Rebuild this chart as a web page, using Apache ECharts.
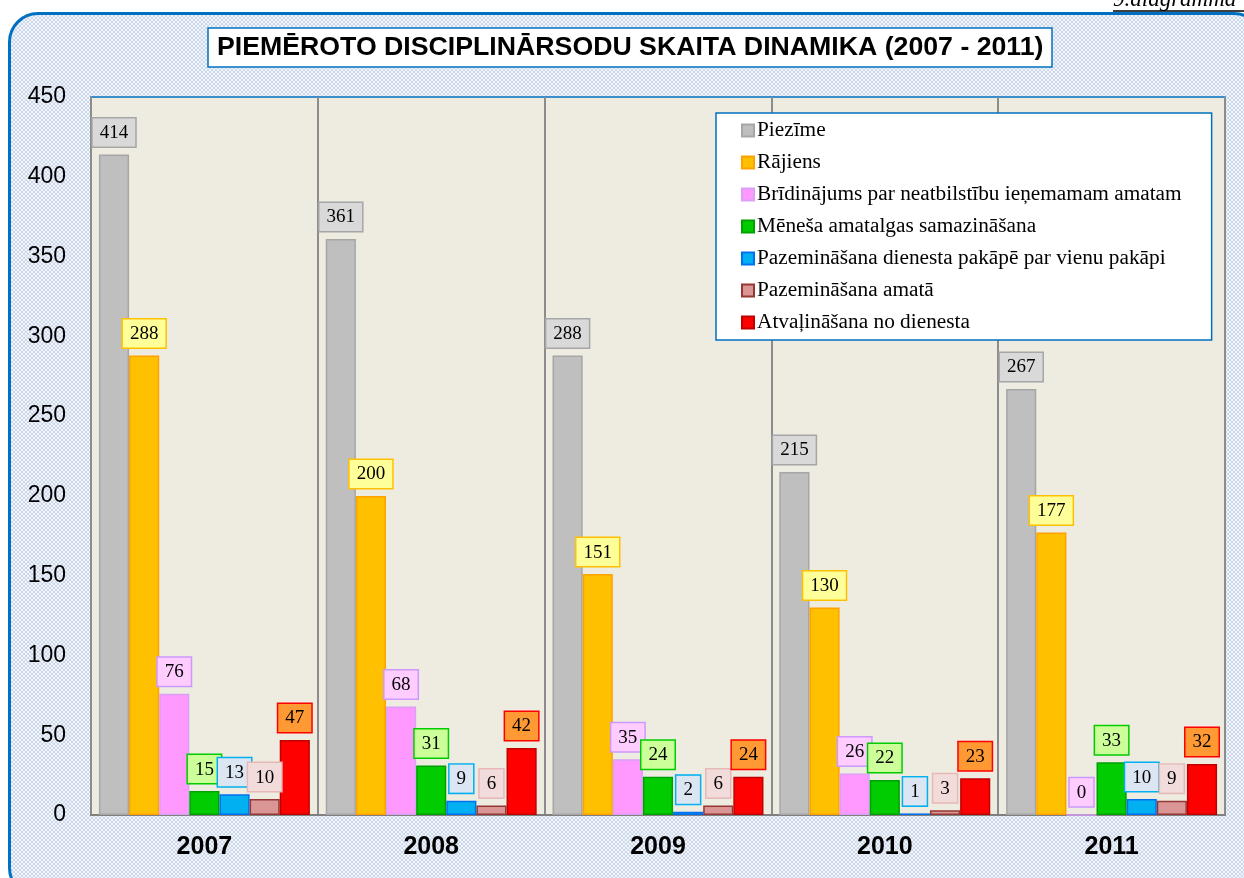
<!DOCTYPE html>
<html>
<head>
    <meta charset="utf-8">
    <title>Disciplinārsodu dinamika</title>
    <script src="https://cdn.jsdelivr.net/npm/echarts@6/dist/echarts.min.js"></script>
</head>
<style>
    html, body
    {
        margin: 0;
        padding: 0;
        background: #ffffff;
        overflow: hidden;
    }

    #frame
    {
        position: absolute;
        left: 8px;
        top: 12px;
        width: 1250px;
        height: 880px;
        border: 3px solid #0070C0;
        border-radius: 30px;
        background-color: #dfe7f2;
        background-image: conic-gradient(#cbd8ec 25%, #f2f5fa 0 50%, #cbd8ec 0 75%, #f2f5fa 0);
        background-size: 4px 4px;
    }

    #main
    {
        position: absolute;
        left: 0;
        top: 0;
        width: 1244px;
        height: 878px;
    }
</style>
<body>

    <div id="frame"></div>
    <div id="main"></div>

    <script type="text/javascript">
        // dati
        var years = ['2007', '2008', '2009', '2010', '2011'];
        var names = [
            'Piezīme',
            'Rājiens',
            'Brīdinājums par neatbilstību ieņemamam amatam',
            'Mēneša amatalgas samazināšana',
            'Pazemināšana dienesta pakāpē par vienu pakāpi',
            'Pazemināšana amatā',
            'Atvaļināšana no dienesta'
        ];
        var piezime    = [414, 361, 288, 215, 267];
        var rajiens    = [288, 200, 151, 130, 177];
        var bridinajums = [76, 68, 35, 26, 0];
        var menesa     = [15, 31, 24, 22, 33];
        var pakape     = [13, 9, 2, 1, 10];
        var amata      = [10, 6, 6, 3, 9];
        var atvalinasana = [47, 42, 24, 23, 32];
        var values = [piezime, rajiens, bridinajums, menesa, pakape, amata, atvalinasana];
        var yTicks = [0, 50, 100, 150, 200, 250, 300, 350, 400, 450];

        // krāsas
        var barColor    = ['#BFBFBF', '#FFC000', '#FF99FF', '#00CC00', '#00B0F0', '#D99694', '#FF0000'];
        var barBorder   = ['#A6A6A6', '#FFA200', '#D9A0F5', '#00A000', '#0070F0', '#953735', '#C00000'];
        var labelFill   = ['#D9D9D9', '#FFFF99', '#FFCCFF', '#CCFF99', '#DCE6F2', '#F2DCDB', '#FF9933'];
        var labelBorder = ['#A6A6A6', '#FFC000', '#CC99FF', '#00CC00', '#00B0F0', '#E6B9B8', '#FF0000'];

        var myChart = echarts.init(document.getElementById('main'));

        var series = [];
        for (var i = 0; i < names.length; i++) {
            series.push({
                name: names[i],
                type: 'bar',
                barGap: 0,
                barCategoryGap: '7%',
                data: values[i],
                itemStyle: {
                    color: barColor[i],
                    borderColor: barBorder[i],
                    borderWidth: 1.5
                },
                label: {
                    show: true,
                    position: 'top',
                    distance: 8,
                    fontFamily: '"Liberation Serif", "Times New Roman", serif',
                    fontSize: 19,
                    color: '#000',
                    backgroundColor: labelFill[i],
                    borderColor: labelBorder[i],
                    borderWidth: 1.5,
                    padding: [5, 7, 4, 7]
                }
            });
        }

        var option = {
            animation: false,
            title: {
                text: 'PIEMĒROTO DISCIPLINĀRSODU SKAITA DINAMIKA (2007 - 2011)',
                left: 208,
                top: 28,
                padding: [6, 9, 6, 9],
                backgroundColor: '#ffffff',
                borderColor: '#0070C0',
                borderWidth: 1.5,
                textStyle: {
                    fontFamily: '"Liberation Sans", Arial, sans-serif',
                    fontWeight: 'bold',
                    fontSize: 26.7,
                    color: '#000'
                }
            },
            legend: {
                orient: 'vertical',
                left: 716,
                top: 113,
                padding: [7, 30, 7, 25],
                itemGap: 11,
                itemWidth: 12,
                itemHeight: 12,
                icon: 'rect',
                backgroundColor: '#ffffff',
                borderColor: '#0070C0',
                borderWidth: 1.5,
                borderRadius: 0,
                selectedMode: false,
                textStyle: {
                    fontFamily: '"Liberation Serif", "Times New Roman", serif',
                    fontSize: 21.3,
                    color: '#000',
                    padding: [0, 0, 0, -2]
                },
                data: names
            },
            graphic: [
                {
                    type: 'text',
                    left: 1113,
                    top: -12,
                    style: {
                        text: '9.diagramma',
                        font: 'italic 23px "Liberation Serif", "Times New Roman", serif',
                        fill: '#000'
                    }
                },
                {
                    type: 'line',
                    shape: { x1: 1113, y1: 11, x2: 1244, y2: 11 },
                    style: { stroke: '#000', lineWidth: 1.5 }
                }
            ],
            grid: {
                left: 91,
                right: 19,
                top: 97,
                bottom: 63,
                show: true,
                backgroundColor: '#EEEBE0',
                borderColor: '#0070C0',
                borderWidth: 1.5
            },
            xAxis: {
                type: 'category',
                data: years,
                axisLine: { lineStyle: { color: '#808080', width: 2 } },
                axisTick: { show: false },
                splitLine: { show: true, lineStyle: { color: '#8C8C8C', width: 2 } },
                axisLabel: {
                    margin: 20,
                    fontFamily: '"Liberation Sans", Arial, sans-serif',
                    fontWeight: 'bold',
                    fontSize: 25,
                    color: '#000'
                }
            },
            yAxis: {
                type: 'value',
                min: yTicks[0],
                max: yTicks[yTicks.length - 1],
                interval: 50,
                axisLine: { show: true, lineStyle: { color: '#8C8C8C', width: 2 } },
                axisTick: { show: false },
                splitLine: { show: false },
                axisLabel: {
                    margin: 25,
                    fontFamily: '"Liberation Sans", Arial, sans-serif',
                    fontSize: 23,
                    color: '#000'
                }
            },
            series: series
        };

        myChart.setOption(option);
    </script>

</body>
</html>
